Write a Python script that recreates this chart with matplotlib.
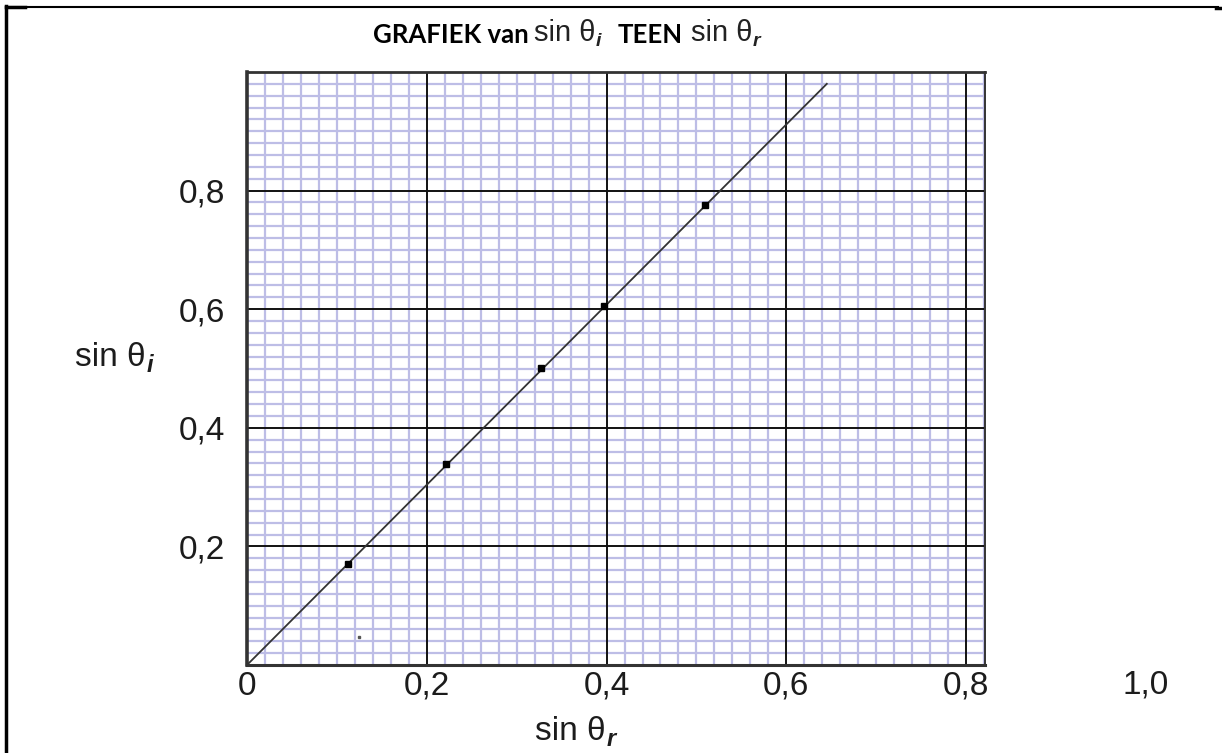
import matplotlib
matplotlib.use("Agg")
import matplotlib.pyplot as plt
from matplotlib.lines import Line2D

# ---- data ----
sin_r = [0.112, 0.221, 0.327, 0.397, 0.509]
sin_i = [0.170, 0.339, 0.501, 0.606, 0.776]
fit_x = [0.0, 0.645]
fit_y = [0.0, 0.980]
stray_x = [0.125]
stray_y = [0.047]
xtick_vals = [0.0, 0.2, 0.4, 0.6, 0.8]
xtick_labels = ["0", "0,2", "0,4", "0,6", "0,8"]
extra_xtick_val = 1.0
extra_xtick_label = "1,0"
ytick_vals = [0.2, 0.4, 0.6, 0.8]
ytick_labels = ["0,2", "0,4", "0,6", "0,8"]
x_limits = (0.0, 0.821)
y_limits = (0.0, 1.0)
minor_step = 0.02

W, H = 1222, 753
fig = plt.figure(figsize=(W / 100, H / 100), dpi=100)
ax = fig.add_axes([247 / W, 1 - 665 / H, (985 - 247) / W, (665 - 72) / H])

txt_color = "#1c1c1c"
tick_font = dict(family="Liberation Sans", size=24, color=txt_color)

ax.set_xlim(*x_limits)
ax.set_ylim(*y_limits)
ax.set_xticks(xtick_vals)
ax.set_xticklabels(xtick_labels, **tick_font)
ax.set_yticks(ytick_vals)
ax.set_yticklabels(ytick_labels, **tick_font)
minor_x = [round(i * minor_step, 4) for i in range(int(x_limits[1] / minor_step) + 1) if i % 10 != 0]
minor_y = [round(i * minor_step, 4) for i in range(int(round(y_limits[1] / minor_step)) + 1) if i % 10 != 0]
ax.set_xticks(minor_x, minor=True)
ax.set_yticks(minor_y, minor=True)
ax.tick_params(which="both", length=0)
ax.tick_params(axis="x", pad=4)
ax.tick_params(axis="y", pad=16)
ax.grid(which="minor", color="#bdbde6", lw=1.6)
ax.set_axisbelow(True)
# major grid lines drawn above the minor grid
for xv in xtick_vals[1:]:
    ax.axvline(xv, color="#111111", lw=1.4, zorder=1)
for yv in ytick_vals:
    ax.axhline(yv, color="#111111", lw=1.4, zorder=1)
for name, lw in [("left", 2.6), ("top", 2.0), ("bottom", 2.2), ("right", 1.4)]:
    ax.spines[name].set_linewidth(lw)
    ax.spines[name].set_color("#333333")

ax.annotate(extra_xtick_label, xy=(extra_xtick_val, 0), xycoords="data",
            xytext=(0, -3), textcoords="offset points", ha="center", va="top",
            annotation_clip=False, **tick_font)

ax.plot(fit_x, fit_y, color="#333333", lw=1.3, zorder=3, clip_on=False)
ax.plot(sin_r, sin_i, ls="none", marker="s", ms=5, color="black", zorder=4)
ax.plot(stray_x, stray_y, ls="none", marker="s", ms=1.5, color="#555555", zorder=4)


def chain(pieces, x0, y0):
    """pieces: list of (text, fontdict, dx_pts, dy_pts, is_sub)"""
    prev = None
    base = None
    for text, fd, dx, dy, sub in pieces:
        if prev is None:
            t = fig.text(x0, y0, text, ha="left", va="baseline", **fd)
            base = t
        else:
            t = ax.annotate(text, xy=(1, 0), xycoords=(prev, base),
                            xytext=(dx, dy), textcoords="offset points",
                            ha="left", va="bottom", annotation_clip=False, **fd)
        prev = t
        if not sub:
            base = t
    return prev


bold_title = dict(family="Lato", weight="bold", size=18.5, color="black")
reg_title = dict(family="Liberation Sans", size=21, color="#222222")
sub_title = dict(family="Liberation Sans", size=14, weight="bold", style="italic", color="#222222")

chain([
    ("GRAFIEK van", bold_title, 0, 0, False),
    ("sin θ", reg_title, 4, 0, False),
    ("i", sub_title, 0, -2, True),
    ("TEEN", bold_title, 12, 0, False),
    ("sin θ", reg_title, 6, 0, False),
    ("r", sub_title, 0, -2, True),
], 373 / W, 1 - 43 / H)

lab_reg = dict(family="Liberation Sans", size=24, color=txt_color)
lab_sub = dict(family="Liberation Sans", size=17, weight="bold", style="italic", color=txt_color)
chain([
    ("sin θ", lab_reg, 0, 0, False),
    ("i", lab_sub, 1, -3, True),
], 75 / W, 1 - 366 / H)
chain([
    ("sin θ", lab_reg, 0, 0, False),
    ("r", lab_sub, 1, -3, True),
], 535 / W, 1 - 740 / H)

# figure frame (left and top edges)
fig.add_artist(Line2D([6 / W, 6 / W], [0, 1 - 6 / H], transform=fig.transFigure, color="black", lw=2.5))
fig.add_artist(Line2D([6 / W, 1218 / W], [1 - 7 / H, 1 - 7 / H], transform=fig.transFigure, color="black", lw=1.5))
fig.add_artist(Line2D([6 / W, 25 / W], [1 - 7 / H, 1 - 7 / H], transform=fig.transFigure, color="black", lw=2.5))
fig.add_artist(Line2D([1216 / W, 1222 / W], [1 - 8 / H, 1 - 8 / H], transform=fig.transFigure, color="black", lw=2.5))

fig.savefig("out.png", dpi=100)
